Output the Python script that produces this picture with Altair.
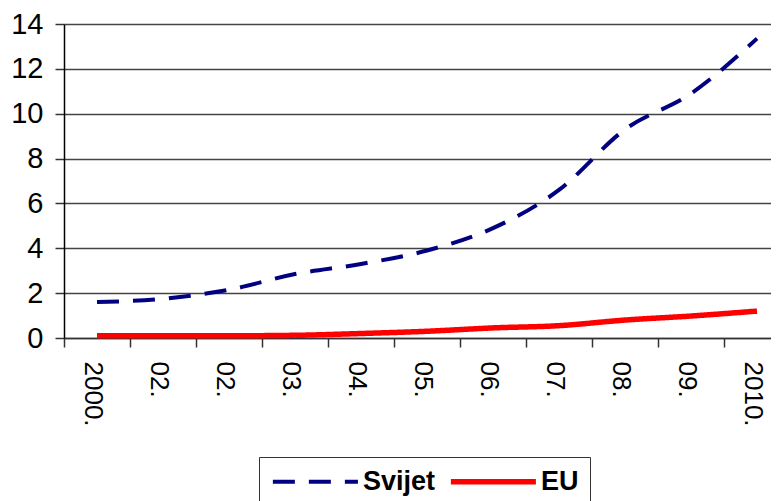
import altair as alt
import pandas as pd

labels = ["2000.", "02.", "02.", "03.", "04.", "05.", "06.", "07.", "08.", "09.", "2010."]
svijet = [1.6, 1.75, 2.15, 2.85, 3.3, 3.9, 4.9, 6.6, 9.3, 10.9, 13.35]
eu = [0.1, 0.1, 0.1, 0.12, 0.2, 0.3, 0.45, 0.55, 0.8, 0.98, 1.2]
series = ["Svijet", "EU"]

rows = []
for i, lab in enumerate(labels):
    rows.append({"idx": i, "serija": series[0], "v": svijet[i]})
    rows.append({"idx": i, "serija": series[1], "v": eu[i]})
df = pd.DataFrame(rows)

label_expr = "[" + ",".join(f"'{l}'" for l in labels) + "][datum.value]"

FONT = "Liberation Sans"

chart = alt.Chart(df).mark_line(interpolate="monotone").encode(
    x=alt.X("idx:O", bandPosition=0.5,
            scale=alt.Scale(type="band", paddingInner=0, paddingOuter=0),
            axis=alt.Axis(title=None, labelAngle=90, labelExpr=label_expr,
                          tickBand="extent", labelFontSize=26, labelFont=FONT,
                          labelColor="black", labelPadding=14, labelOffset=-5,
                          tickSize=9, tickColor="#333", domainColor="#333",
                          domainWidth=1.5, tickWidth=1.5, grid=False)),
    y=alt.Y("v:Q", scale=alt.Scale(domain=[0, 14], nice=False),
            axis=alt.Axis(title=None, values=[0, 2, 4, 6, 8, 10, 12, 14],
                          labelFontSize=29, labelFont=FONT, labelColor="black",
                          labelPadding=12, tickSize=9, tickColor="#333",
                          tickWidth=1.5, domainColor="black", domainWidth=1.5,
                          gridColor="#444", gridWidth=1.5, grid=True)),
    color=alt.Color("serija:N", sort=series,
                    scale=alt.Scale(domain=series, range=["#000080", "#ff0000"]),
                    legend=alt.Legend(title=None, orient="none", direction="horizontal",
                                      legendX=195, legendY=433,
                                      symbolType="M-1,0H7", symbolSize=452,
                                      labelFont=FONT, labelFontSize=27,
                                      labelFontWeight="bold", labelColor="black",
                                      labelOffset=66, columnPadding=3,
                                      padding=11, strokeColor="#333",
                                      fillColor="white")),
    strokeDash=alt.StrokeDash("serija:N", sort=series,
                              scale=alt.Scale(domain=series, range=[[22, 14], [1, 0]]),
                              legend=alt.Legend(title=None)),
    strokeWidth=alt.StrokeWidth("serija:N", sort=series,
                                scale=alt.Scale(domain=series, range=[4, 5.5]),
                                legend=alt.Legend(title=None)),
).properties(
    width=726, height=314,
    autosize=alt.AutoSizeParams(type="none"),
    padding={"left": 56, "top": 16, "right": -19, "bottom": 163},
).configure_view(stroke=None).configure_axis(labelFont=FONT)

chart.save("out.html", embed_options={"renderer": "svg", "actions": False})
